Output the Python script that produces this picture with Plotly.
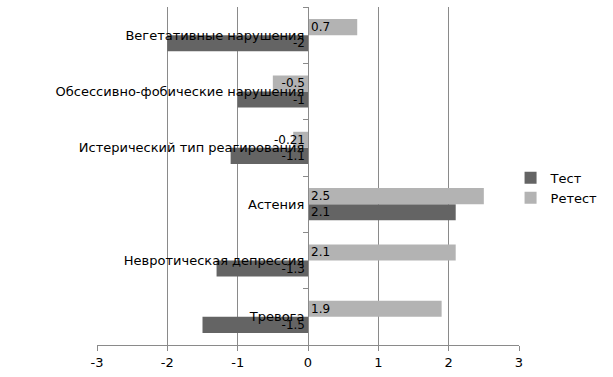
import plotly.graph_objects as go

categories = [
    "Тревога",
    "Невротическая депрессия",
    "Астения",
    "Истерический тип реагирования",
    "Обсессивно-фобические нарушения",
    "Вегетативные нарушения",
]
test_values = [-1.5, -1.3, 2.1, -1.1, -1, -2]
retest_values = [1.9, 2.1, 2.5, -0.21, -0.5, 0.7]
x_ticks = [-3, -2, -1, 0, 1, 2, 3]

FONT = "DejaVu Sans"
GRID = "#8a8a8a"

fig = go.Figure()
for name, vals, color in [("Тест", test_values, "#646464"), ("Ретест", retest_values, "#b3b3b3")]:
    fig.add_trace(go.Bar(
        name=name, y=categories, x=vals, orientation="h",
        marker=dict(color=color, line=dict(width=0)),
        text=[str(v) for v in vals],
        textposition="inside", insidetextanchor="start",
        constraintext="none", textangle=0,
        insidetextfont=dict(family=FONT, size=12, color="#000000"),
        hoverinfo="skip",
    ))

fig.update_layout(
    width=613, height=377,
    margin=dict(l=97, r=94, t=7, b=32, autoexpand=False),
    paper_bgcolor="white", plot_bgcolor="white",
    barmode="group", bargap=0.43, bargroupgap=0,
    font=dict(family=FONT, size=13, color="#000000"),
    showlegend=True,
    legend=dict(x=0.98, y=0.465, xanchor="left", yanchor="middle",
                font=dict(family=FONT, size=13), itemwidth=30,
                tracegroupgap=0, bgcolor="rgba(0,0,0,0)"),
    xaxis=dict(range=[-3, 3], tickvals=x_ticks, ticktext=[str(t) for t in x_ticks],
               showgrid=True, gridcolor=GRID, gridwidth=1, automargin=False,
               zeroline=False, showline=True, linecolor=GRID, linewidth=1,
               ticks="outside", ticklen=5, tickcolor=GRID,
               tickfont=dict(family=FONT, size=13), fixedrange=True),
    yaxis=dict(type="category", categoryorder="array", categoryarray=categories,
               anchor="free", position=0.5, side="left", automargin=False,
               showgrid=False, zeroline=False, showline=True, linecolor=GRID, linewidth=1,
               ticks="outside", ticklen=5, tickcolor=GRID, tickson="boundaries",
               ticklabelstandoff=1,
               tickfont=dict(family=FONT, size=13), fixedrange=True),
)

fig.write_html("out.html", config={"displayModeBar": False},
               post_script="document.body.style.margin='0px';")
